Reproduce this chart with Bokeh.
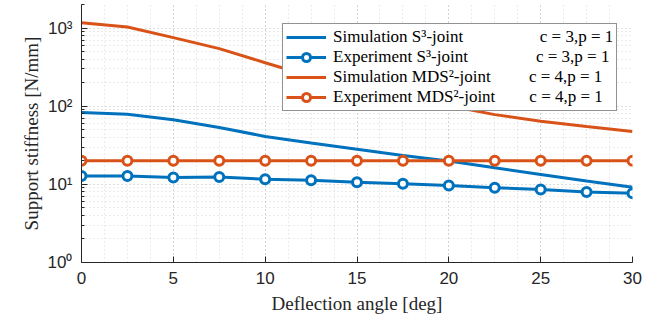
from bokeh.plotting import figure
from bokeh.models import (Range1d, FixedTicker, SingleIntervalTicker,
                          CustomJSTickFormatter, Legend, LegendItem)
from bokeh.embed import file_html
from bokeh.resources import INLINE

# ---- data ----
angle = [0, 2.5, 5, 7.5, 10, 12.5, 15, 17.5, 20, 22.5, 25, 27.5, 30]
sim_s3 = [83, 79, 67, 53.5, 41, 33.8, 28.2, 23.4, 19.9, 16.3, 13.4, 11.0, 9.2]
exp_s3 = [12.8, 12.8, 12.2, 12.4, 11.6, 11.25, 10.6, 10.16, 9.68, 9.04, 8.6, 8.0, 7.67]
sim_mds2 = [1170, 1030, 753, 545, 360, 240, 175, 131, 101, 78, 64, 55, 47.5]
exp_mds2 = [20, 20, 20, 20, 20, 20, 20, 20, 20, 20, 20, 20, 20]

x_ticks = 5
y_major = [1, 10, 100, 1000]
y_minor = [m * d for d in [1, 10, 100, 1000] for m in range(2, 10)]

names = ["Simulation S\u00b3-joint", "Experiment S\u00b3-joint",
         "Simulation MDS\u00b2-joint", "Experiment MDS\u00b2-joint"]
params = ["c = 3,p = 1", "c = 3,p = 1", "c = 4,p = 1", "c = 4,p = 1"]
gaps = [18, 16, 9, 8]

BLUE = "#0072BD"
ORANGE = "#D95319"
INK = "#262626"

p = figure(width=656, height=320, x_range=Range1d(0, 30), y_range=Range1d(1, 2000),
           y_axis_type="log", output_backend="svg", toolbar_location=None,
           min_border_left=81, min_border_right=24, min_border_top=4,
           min_border_bottom=58, background_fill_color="white",
           border_fill_color="white")
p.outline_line_color = None

p.xaxis.ticker = SingleIntervalTicker(interval=x_ticks, num_minor_ticks=4)
p.yaxis.ticker = FixedTicker(ticks=y_major, minor_ticks=y_minor)
p.yaxis.formatter = CustomJSTickFormatter(code="""
const sup = {"0":"\u2070","1":"\u00b9","2":"\u00b2","3":"\u00b3","-":"\u207b"};
const e = Math.round(Math.log10(tick));
return "10" + String(e).split("").map(c => sup[c]).join("");
""")

for ax in (p.xaxis[0], p.yaxis[0]):
    ax.axis_line_color = INK
    ax.major_tick_line_color = INK
    ax.minor_tick_line_color = INK
    ax.major_tick_in = 6
    ax.major_tick_out = 0
    ax.minor_tick_in = 3
    ax.minor_tick_out = 0
    ax.major_label_text_font = "Liberation Sans"
    ax.major_label_text_font_size = "17px"
    ax.major_label_text_color = INK
    ax.axis_label_text_font = "Liberation Serif"
    ax.axis_label_text_font_style = "normal"
    ax.axis_label_text_font_size = "19px"
    ax.axis_label_text_color = INK
p.xaxis.minor_tick_line_color = None
p.xaxis.axis_label = "Deflection angle [deg]"
p.yaxis.axis_label = "Support stiffness [N/mm]"
p.xaxis.major_label_standoff = 9
p.xaxis.axis_label_standoff = 6
p.yaxis.major_label_standoff = 9
p.yaxis.axis_label_standoff = 3

for g in (p.xgrid[0], p.ygrid[0]):
    g.grid_line_color = "#bdbdbd"
    g.grid_line_dash = "1 3"
    g.minor_grid_line_color = "#d6d6d6"
    g.minor_grid_line_dash = "1 3"

r1 = p.line(angle, sim_s3, line_color=BLUE, line_width=3)
r2a = p.line(angle, exp_s3, line_color=BLUE, line_width=3)
r2b = p.scatter(angle, exp_s3, marker="circle", size=9, fill_color="white",
                line_color=BLUE, line_width=3)
r3 = p.line(angle, sim_mds2, line_color=ORANGE, line_width=3)
r4a = p.line(angle, exp_mds2, line_color=ORANGE, line_width=3)
r4b = p.scatter(angle, exp_mds2, marker="circle", size=9, fill_color="white",
                line_color=ORANGE, line_width=3)

labels = [n + "\u00a0" * g + q for n, g, q in zip(names, gaps, params)]
items = [LegendItem(label=labels[0], renderers=[r1]),
         LegendItem(label=labels[1], renderers=[r2a, r2b]),
         LegendItem(label=labels[2], renderers=[r3]),
         LegendItem(label=labels[3], renderers=[r4a, r4b])]
legend = Legend(items=items, location=(201, 151), label_text_font="Liberation Serif",
                label_text_font_size="17px", label_text_color="black",
                glyph_width=40, glyph_height=20, label_height=20, spacing=0,
                padding=3, margin=0, label_standoff=7, label_width=278,
                border_line_color=INK, border_line_width=1,
                background_fill_color="white", background_fill_alpha=1.0)
p.add_layout(legend)

open("out.html", "w").write(file_html(p, INLINE))
